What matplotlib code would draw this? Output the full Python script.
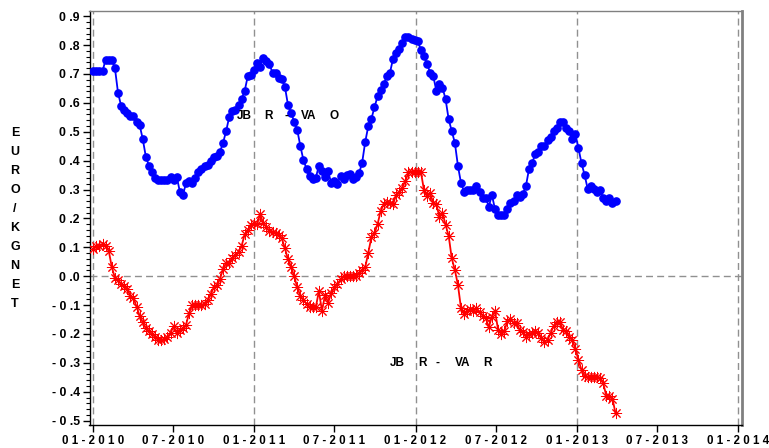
import matplotlib
matplotlib.use("Agg")
import matplotlib.pyplot as plt
import pandas as pd
from matplotlib.ticker import FixedLocator, FixedFormatter, MultipleLocator

plt.rcParams['font.family'] = ['Liberation Sans', 'DejaVu Sans']

# ---------------- data ----------------
start_date = "2010-01-01"

blue_values = [
    0.71, 0.71, 0.71, 0.71, 0.75, 0.75, 0.75, 0.72, 0.635, 0.59,
    0.575, 0.565, 0.555, 0.553, 0.535, 0.523, 0.475, 0.414, 0.383, 0.362,
    0.341, 0.333, 0.333, 0.333, 0.333, 0.345, 0.333, 0.345, 0.293, 0.281,
    0.322, 0.33, 0.322, 0.341, 0.362, 0.372, 0.38, 0.386, 0.398, 0.413,
    0.415, 0.431, 0.462, 0.503, 0.552, 0.572, 0.575, 0.593, 0.613, 0.642,
    0.693, 0.697, 0.714, 0.737, 0.725, 0.756, 0.746, 0.733, 0.705, 0.705,
    0.685, 0.683, 0.656, 0.593, 0.566, 0.535, 0.506, 0.451, 0.402, 0.372,
    0.346, 0.335, 0.34, 0.383, 0.363, 0.342, 0.363, 0.322, 0.33, 0.32,
    0.346, 0.335, 0.352, 0.355, 0.335, 0.342, 0.356, 0.393, 0.465, 0.52,
    0.545, 0.585, 0.623, 0.646, 0.664, 0.693, 0.704, 0.753, 0.774, 0.785,
    0.808, 0.827, 0.827, 0.82, 0.816,
    0.815, 0.783, 0.763, 0.735, 0.705, 0.694, 0.642, 0.664, 0.653, 0.613,
    0.543, 0.503, 0.462, 0.382, 0.322, 0.293, 0.30, 0.30, 0.30, 0.312,
    0.293, 0.272, 0.272, 0.241, 0.281, 0.232, 0.212, 0.212, 0.212, 0.232,
    0.253, 0.262, 0.281, 0.273, 0.284, 0.312, 0.371, 0.391, 0.422, 0.431,
    0.451, 0.451, 0.472, 0.481, 0.503, 0.514, 0.534, 0.534, 0.514, 0.503,
    0.475, 0.492, 0.443, 0.391, 0.35, 0.302, 0.312, 0.302, 0.291, 0.30,
    0.27, 0.262, 0.272, 0.253, 0.262,
]

red_values = [
    0.095, 0.103, 0.106, 0.11, 0.103, 0.088, 0.031, -0.005, -0.013, -0.028,
    -0.033, -0.045, -0.068, -0.076, -0.105, -0.137, -0.16, -0.18, -0.19, -0.20,
    -0.209, -0.22, -0.222, -0.218, -0.211, -0.195, -0.174, -0.197, -0.186, -0.18,
    -0.168, -0.128, -0.099, -0.099, -0.099, -0.099, -0.096, -0.084, -0.062, -0.039,
    -0.03, -0.009, 0.024, 0.047, 0.045, 0.062, 0.074, 0.085, 0.105, 0.145,
    0.16, 0.178, 0.183, 0.18, 0.215, 0.183, 0.172, 0.155, 0.152, 0.149,
    0.143, 0.131, 0.097, 0.059, 0.033, 0.0, -0.038, -0.068, -0.082, -0.096,
    -0.107, -0.107, -0.108, -0.051, -0.12, -0.065, -0.091, -0.059, -0.039, -0.028,
    -0.01, 0.0, 0.0, 0.0, 0.0, 0.0, 0.01, 0.022, 0.031, 0.082,
    0.135, 0.149, 0.18, 0.226, 0.249, 0.258, 0.255, 0.249, 0.281, 0.29,
    0.307, 0.33,
    0.359, 0.362, 0.362, 0.362, 0.362, 0.299, 0.276, 0.287, 0.255, 0.249,
    0.206, 0.22, 0.178, 0.14, 0.062, 0.022, -0.03, -0.111, -0.131, -0.12,
    -0.114, -0.122, -0.111, -0.125, -0.136, -0.145, -0.176, -0.14, -0.12, -0.186,
    -0.20, -0.191, -0.155, -0.148, -0.163, -0.163, -0.186, -0.194, -0.209, -0.20,
    -0.195, -0.191, -0.195, -0.215, -0.226, -0.22, -0.197, -0.171, -0.157, -0.157,
    -0.186, -0.191, -0.209, -0.22, -0.251, -0.29, -0.324, -0.347, -0.35, -0.35,
    -0.35, -0.35, -0.353, -0.37, -0.413, -0.416, -0.424, -0.474,
]

x_tick_dates = ["2010-01-01", "2010-07-01", "2011-01-01", "2011-07-01", "2012-01-01",
                "2012-07-01", "2013-01-01", "2013-07-01", "2014-01-01"]
x_tick_labels = ["0 1 - 2 0 1 0", "0 7 - 2 0 1 0", "0 1 - 2 0 1 1", "0 7 - 2 0 1 1",
                 "0 1 - 2 0 1 2", "0 7 - 2 0 1 2", "0 1 - 2 0 1 3", "0 7 - 2 0 1 3",
                 "0 1 - 2 0 1 4"]
y_ticks = [-0.5, -0.4, -0.3, -0.2, -0.1, 0.0, 0.1, 0.2, 0.3, 0.4, 0.5, 0.6, 0.7, 0.8, 0.9]
y_tick_labels = ["- 0 .5", "- 0 .4", "- 0 .3", "- 0 .2", "- 0 .1", "0 .0", "0 .1", "0 .2",
                 "0 .3", "0 .4", "0 .5", "0 .6", "0 .7", "0 .8", "0 .9"]
grid_dates = ["2010-01-01", "2011-01-01", "2012-01-01", "2013-01-01", "2014-01-01"]
y_label_letters = ["E", "U", "R", "O", "/", "K", "G", "N", "E", "T"]
label_blue_parts = ["JB", "R", "-", "VA", "O"]
label_red_parts = ["JB", "R", "-", "VA", "R"]

# ---------------- figure ----------------
W, H = 769, 448
fig = plt.figure(figsize=(W / 100, H / 100), dpi=100)
left_px, right_px, top_px, bottom_px = 89.5, 742, 11, 425
ax = fig.add_axes([left_px / W, (H - bottom_px) / H,
                   (right_px - left_px) / W, (bottom_px - top_px) / H])

dates_blue = pd.date_range(start_date, periods=len(blue_values), freq="7D")
dates_red = pd.date_range(start_date, periods=len(red_values), freq="7D")

ax.plot(dates_blue, blue_values, color="#0000ff", lw=1.3, marker="o", ms=5.2,
        mfc="#0000ff", mec="#0000ff", zorder=3)
ax.plot(dates_red, red_values, color="#ff0000", lw=1.3, marker=(8, 2, 0), ms=8,
        mew=0.7, mec="#ff0000", zorder=3)

for d in grid_dates:
    ax.axvline(pd.Timestamp(d), color="#909090", lw=1, ls=(0, (5, 3)), zorder=1)
ax.axhline(0.0, color="#909090", lw=1, ls=(0, (5, 3)), zorder=1)

t0 = pd.Timestamp(start_date)
ax.set_xlim(t0 - pd.Timedelta(days=8.6), t0 + pd.Timedelta(days=1469.5))
ax.set_ylim(-0.515, 0.918)

ax.xaxis.set_major_locator(FixedLocator([matplotlib.dates.date2num(pd.Timestamp(d)) for d in x_tick_dates]))
ax.xaxis.set_major_formatter(FixedFormatter(x_tick_labels))
ax.yaxis.set_major_locator(FixedLocator(y_ticks))
ax.yaxis.set_major_formatter(FixedFormatter(y_tick_labels))
ax.yaxis.set_minor_locator(MultipleLocator(0.02))

ax.tick_params(axis="x", which="major", length=5, width=1, direction="out",
               labelsize=8.3, pad=2)
ax.tick_params(axis="y", which="major", length=5, width=1, direction="out",
               labelsize=8.8, pad=2)
ax.tick_params(axis="y", which="minor", length=3, width=0.8, direction="out")
for lab in ax.get_xticklabels() + ax.get_yticklabels():
    lab.set_fontweight("bold")

for s in ["left", "bottom"]:
    ax.spines[s].set_color("black")
    ax.spines[s].set_linewidth(1)
ax.spines["top"].set_color("#808080")
ax.spines["top"].set_linewidth(1)
ax.spines["right"].set_color("#808080")
ax.spines["right"].set_linewidth(2)

# vertical stacked y label
for i, ch in enumerate(y_label_letters):
    fig.text(15 / W, 1 - (133 + 19 * i) / H, ch, ha="center", va="center",
             fontsize=9, fontweight="bold", zorder=10)

# series labels
for part, xp in zip(label_blue_parts, [236.7, 264.3, 284.5, 301, 330]):
    fig.text(xp / W, 1 - 116 / H, part, ha="left", va="center",
             fontsize=8.5, fontweight="bold", zorder=10)
for part, xp in zip(label_red_parts, [390, 418.3, 436, 455, 483.3]):
    fig.text(xp / W, 1 - 362.5 / H, part, ha="left", va="center",
             fontsize=8.5, fontweight="bold", zorder=10)

fig.savefig("out.png", dpi=100)
